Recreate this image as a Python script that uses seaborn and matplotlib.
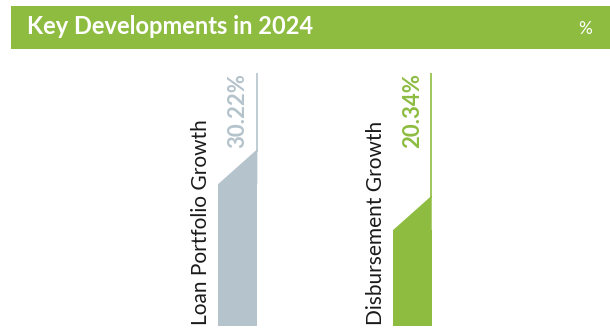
import matplotlib
matplotlib.use("Agg")
import matplotlib.pyplot as plt
from matplotlib.patches import Rectangle
import seaborn as sns

# Data
categories = ["Loan Portfolio Growth", "Disbursement Growth"]
values = [30.22, 20.34]
title = "Key Developments in 2024"
unit = "%"

# Styling
GREEN = "#8DBC41"
GREY = "#B4C3CC"
bar_colors = [GREY, GREEN]

sns.set_theme(style="white")
plt.rcParams["font.family"] = ["Lato", "DejaVu Sans"]

W, H = 610, 335
fig = plt.figure(figsize=(W / 100, H / 100), dpi=100)
fig.patch.set_facecolor("white")

# Header band
fig.patches.append(Rectangle((11 / W, 1 - 49 / H), (W - 11) / W, 43 / H,
                             transform=fig.transFigure, facecolor=GREEN,
                             edgecolor="none", zorder=0))
fig.text(27 / W, 1 - 34.5 / H, title, color="white", fontsize=17,
         fontweight="bold", ha="left", va="baseline")
fig.text(585.5 / W, 1 - 28.5 / H, unit, color="white", fontsize=12.5,
         ha="center", va="center")

# Bar area
px_per_unit = 4.7
ax_left, ax_w = 150.6, 348.8
ax_bottom, ax_h = 9, 266
ax = fig.add_axes([ax_left / W, ax_bottom / H, ax_w / W, ax_h / H])

sns.barplot(x=categories, y=values, hue=categories, palette=bar_colors,
            width=0.224, saturation=1, legend=False, ax=ax, linewidth=0)
ax.set_xlim(-0.5, 1.5)
ax.set_ylim(0, ax_h / px_per_unit)

slant = 7.4        # rise of the angled cap across the bar
line_top = 53.8    # height where the guide lines end
label_offset = 0.21

for patch, val, cat, col in zip(ax.patches, values, categories, bar_colors):
    x0 = patch.get_x()
    x1 = x0 + patch.get_width()
    xc = x0 + patch.get_width() / 2
    # angled cap on top of the bar
    ax.fill([x0, x1, x1], [val, val + slant, val], color=col, lw=0)
    # thin guide line rising from the bar's right edge
    ax.plot([x1 - 0.004, x1 - 0.004], [val + slant - 0.5, line_top], color=col,
            lw=1.2, solid_capstyle="butt")
    ax.text(xc, line_top, f"{val:.2f}%", rotation=90, ha="center", va="top",
            color=col, fontsize=16, fontweight="bold")
    ax.text(xc - label_offset, 0.2, cat, rotation=90, ha="center",
            va="bottom", color="#1a1a1a", fontsize=15)

ax.set_axis_off()
fig.savefig("out.png", dpi=100, facecolor="white")
